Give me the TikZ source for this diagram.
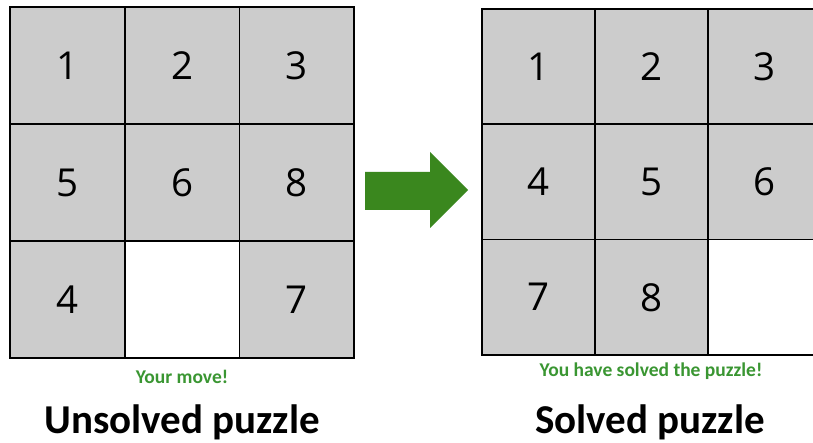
\documentclass[tikz,border=0pt]{standalone}
\usepackage{fontspec}
\setmainfont{Carlito}
\newfontfamily\digitfont{Open Sans}
\definecolor{tilegray}{RGB}{204,204,204}
\definecolor{arrowgreen}{RGB}{58,135,30}
\definecolor{msggreen}{RGB}{58,150,50}

\begin{document}
\begin{tikzpicture}[x=1pt,y=-1pt,every node/.style={inner sep=0pt,outer sep=0pt},
	tile/.style={draw=black,line width=1.8pt,fill=tilegray,font=\digitfont\fontsize{38.5}{38}\selectfont},
	hole/.style={tile,fill=white},
	utile/.style={minimum width=114.7pt,minimum height=117pt},
	stile/.style={minimum width=113pt,minimum height=115.3pt},
	msg/.style={text=msggreen,font=\bfseries\fontsize{19.5}{20}\selectfont},
	caption/.style={text=black,font=\bfseries\fontsize{41}{42}\selectfont}]
	\clip (0,0) rectangle (813,443);
	\fill[white] (0,0) rectangle (813,443);
	% unsolved grid
	\foreach \v/\c/\r in {1/0/0,2/1/0,3/2/0,5/0/1,6/1/1,8/2/1,4/0/2,7/2/2}
		{\node[tile,utile] (u\v) at ({10+114.7*(\c+0.5)},{7+117*(\r+0.5)}) {\v};}
	\node[hole,utile] (ublank) at ({10+114.7*1.5},{7+117*2.5}) {};
	% solved grid
	\foreach \v/\c/\r in {1/0/0,2/1/0,3/2/0,4/0/1,5/1/1,6/2/1,7/0/2,8/1/2}
		{\node[tile,stile] (s\v) at ({482+113*(\c+0.5)},{9+115.3*(\r+0.5)}) {\v};}
	\node[hole,stile] (sblank) at ({482+113*2.5},{9+115.3*2.5}) {};
	% big arrow
	\fill[arrowgreen] (365,172) -- (430,172) -- (430,152) -- (468,190) -- (430,228) -- (430,210) -- (365,210) -- cycle;
	\node[msg] (umsg) at (182,377) {Your move!};
	\node[msg] (smsg) at (651,371) {You have solved the puzzle!};
	\node[caption,anchor=base] (ucap) at (182,433) {Unsolved puzzle};
	\node[caption,anchor=base] (scap) at (650,433) {Solved puzzle};
\end{tikzpicture}
\end{document}
